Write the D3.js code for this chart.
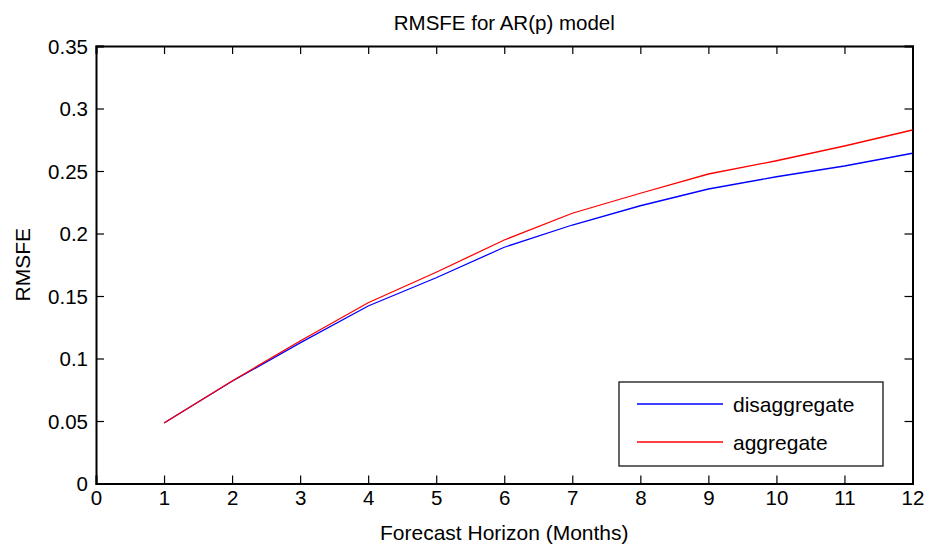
<!DOCTYPE html>
<html><head><meta charset="utf-8">
<script src="https://cdn.jsdelivr.net/npm/d3@7"></script>
<style>body{margin:0;background:#fff}svg{display:block}text{font-family:"Liberation Sans",Arial,Helvetica,sans-serif;fill:#000}</style>
</head><body>
<svg id="c" width="929" height="544"></svg>
<script>
const horizons = [1,2,3,4,5,6,7,8,9,10,11,12];
const disaggregate = [0.0484,0.0818,0.1125,0.142,0.1646,0.189,0.2068,0.2222,0.2356,0.2454,0.254,0.2642];
const aggregate = [0.0484,0.082,0.114,0.1446,0.169,0.1948,0.2162,0.2322,0.2476,0.2582,0.27,0.2828];
const xTicks = [0,1,2,3,4,5,6,7,8,9,10,11,12];
const yTicks = [0,0.05,0.1,0.15,0.2,0.25,0.3,0.35];
const yTickLabels = ["0","0.05","0.1","0.15","0.2","0.25","0.3","0.35"];
const seriesNames = ["disaggregate","aggregate"];
const seriesColors = ["#0000ff","#ff0000"];

const L=96,R=912.5,T=46,B=483.5;
const svg=d3.select("#c");
const x=d3.scaleLinear().domain([0,12]).range([L,R]);
const y=d3.scaleLinear().domain([0,0.35]).range([B,T]);

const fs=20.5;
const gx=svg.append("g").attr("transform",`translate(0,${B})`)
 .call(d3.axisBottom(x).tickValues(xTicks).tickFormat(d3.format("d")).tickSize(-8).tickPadding(0));
const gy=svg.append("g").attr("transform",`translate(${L},0)`)
 .call(d3.axisLeft(y).tickValues(yTicks).tickFormat((d,i)=>yTickLabels[i]).tickSize(-8).tickPadding(8));
const gt=svg.append("g").attr("transform",`translate(0,${T})`)
 .call(d3.axisTop(x).tickValues(xTicks).tickFormat("").tickSize(-8));
const gr=svg.append("g").attr("transform",`translate(${R},0)`)
 .call(d3.axisRight(y).tickValues(yTicks).tickFormat("").tickSize(-8));
[gx,gy,gt,gr].forEach(g=>{
 g.selectAll(".domain").attr("stroke","#000").attr("stroke-width",2);
 g.selectAll(".tick line").attr("stroke","#000").attr("stroke-width",1.2);
 g.selectAll("text").attr("font-size",fs).attr("font-family","'Liberation Sans',Arial,sans-serif").attr("fill","#000");
});
gx.selectAll("text").attr("y",21).attr("dy",0);
gy.selectAll("text").attr("dy","0.36em");

const line=d3.line().x((d,i)=>x(horizons[i])).y(d=>y(d));
[disaggregate,aggregate].forEach((s,k)=>{
 svg.append("path").datum(s).attr("d",line).attr("fill","none")
  .attr("stroke",seriesColors[k]).attr("stroke-width",1.3);
});

svg.append("text").attr("x",(L+R)/2).attr("y",29.5).attr("text-anchor","middle").attr("font-size",20.5).text("RMSFE for AR(p) model");
svg.append("text").attr("x",(L+R)/2).attr("y",539.5).attr("text-anchor","middle").attr("font-size",21).text("Forecast Horizon (Months)");
svg.append("text").attr("transform",`translate(29.5,${(T+B)/2}) rotate(-90)`).attr("text-anchor","middle").attr("font-size",21).text("RMSFE");

const lg=svg.append("g");
lg.append("rect").attr("x",619).attr("y",382).attr("width",264).attr("height",84).attr("fill","#fff").attr("stroke","#000").attr("stroke-width",1.2);
seriesNames.forEach((n,k)=>{
 const yy=404+k*38;
 lg.append("line").attr("x1",637).attr("x2",723).attr("y1",yy).attr("y2",yy).attr("stroke",seriesColors[k]).attr("stroke-width",1.3);
 lg.append("text").attr("x",733).attr("y",yy).attr("dy","0.36em").attr("font-size",21).text(n);
});
</script>
</body></html>
